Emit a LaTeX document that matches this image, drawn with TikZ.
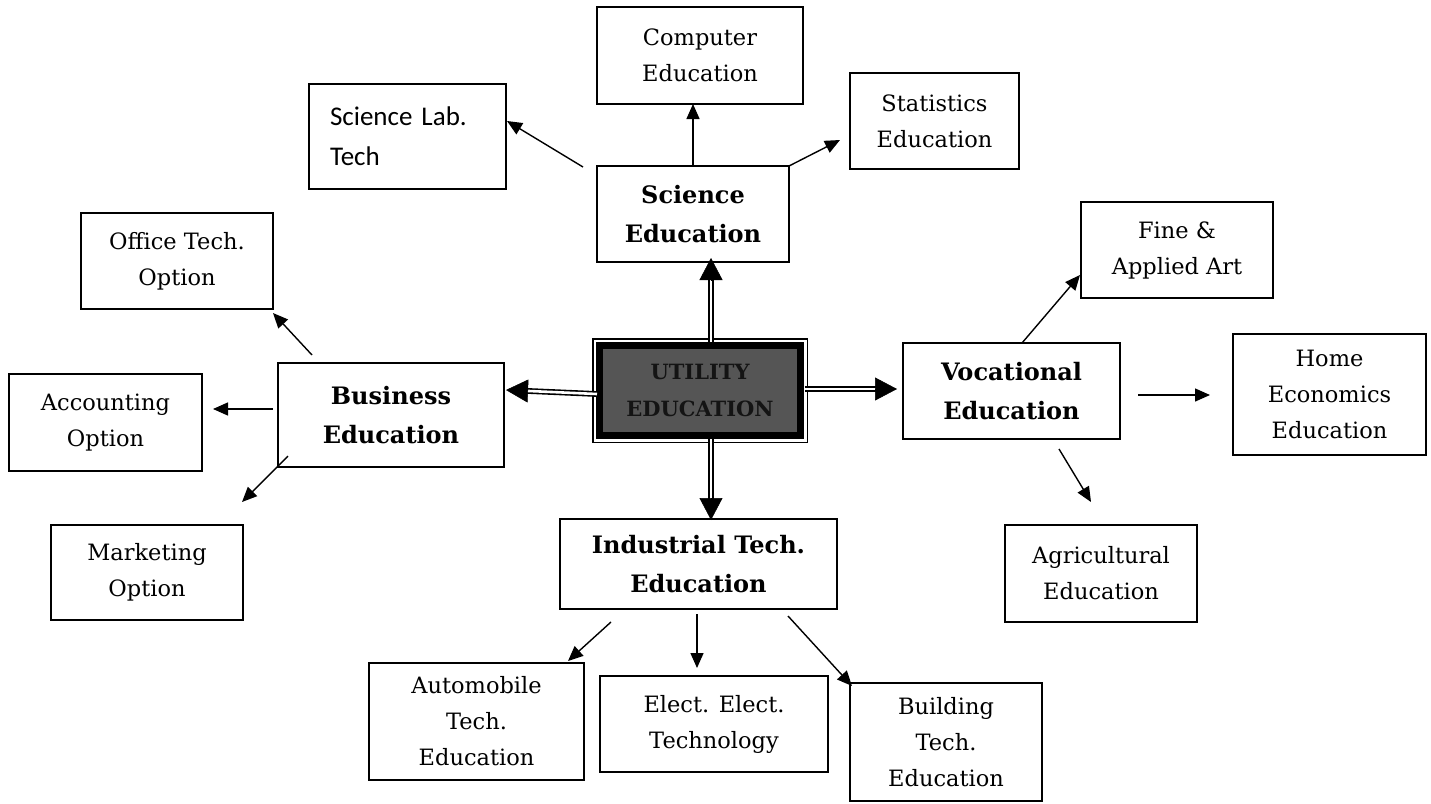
\documentclass[tikz,border=0pt]{standalone}
\usetikzlibrary{arrows.meta,calc}
\usepackage{fontspec}
\setmainfont{DejaVu Serif}
\newfontfamily\calib{Carlito}
\definecolor{utilgray}{RGB}{85,85,85}
\definecolor{utiltext}{RGB}{20,20,20}
\begin{document}
\begin{tikzpicture}[x=1pt,y=-1pt,
  box/.style={draw, line width=1.4pt, inner sep=0pt, outer sep=0pt, align=center, font=\fontsize{22.5}{36}\selectfont},
  bbox/.style={box, font=\bfseries\fontsize{24}{39}\selectfont},
  arr/.style={line width=1.4pt, -{Triangle[length=15pt,width=13pt]}},
  dbl/.style={double, double distance=2.6pt, line width=1.6pt},
  dhead/.style={line width=0.5pt, -{Triangle[length=22pt,width=23pt]}}]
\useasboundingbox (0,0) rectangle (1431,803);

% nodes
\node[box, minimum width=206pt, minimum height=97pt] (comp) at (700,55.5) {Computer\\Education};
\node[box, minimum width=169pt, minimum height=96pt] (stat) at (934.5,121) {Statistics\\Education};
\node[box, minimum width=197pt, minimum height=105pt, text width=155pt, align=left,
      font=\calib\fontsize{27}{40}\selectfont] (lab) at (407.5,136.5) {Science Lab.\\Tech};
\node[bbox, minimum width=192pt, minimum height=96pt] (sci) at (693,214) {Science\\Education};
\node[box, minimum width=192pt, minimum height=96pt] (office) at (177,261) {Office Tech.\\Option};
\node[bbox, minimum width=226pt, minimum height=104pt] (bus) at (391,415) {Business\\Education};
\node[box, minimum width=193pt, minimum height=97pt] (acc) at (105.5,422.5) {Accounting\\Option};
\node[box, minimum width=192pt, minimum height=95pt] (mkt) at (147,572.5) {Marketing\\Option};
\node[draw, line width=7pt, fill=utilgray, inner sep=0pt, outer sep=0pt,
      minimum width=201pt, minimum height=90pt, align=center, text=utiltext,
      font=\bfseries\fontsize{21}{37}\selectfont] (util) at (700,390.5)
      {UTILITY\\EDUCATION};
\draw[line width=1.5pt] ([shift={(-6.75pt,6.75pt)}]util.north west) rectangle ([shift={(6.75pt,-6.75pt)}]util.south east);
\node[bbox, minimum width=217pt, minimum height=96pt] (voc) at (1011.5,391) {Vocational\\Education};
\node[box, minimum width=192pt, minimum height=96pt] (fine) at (1177,250) {Fine \&\\Applied Art};
\node[box, minimum width=193pt, minimum height=121pt] (home) at (1329.5,394.5) {Home\\Economics\\Education};
\node[box, minimum width=192pt, minimum height=97pt] (agri) at (1101,573.5) {Agricultural\\Education};
\node[bbox, minimum width=277pt, minimum height=90pt] (ind) at (698.5,564) {Industrial Tech.\\Education};
\node[box, minimum width=215pt, minimum height=117pt] (auto) at (476.5,721.5) {Automobile\\Tech.\\Education};
\node[box, minimum width=228pt, minimum height=96pt] (elect) at (714,724) {Elect. Elect.\\Technology};
\node[box, minimum width=192pt, minimum height=118pt] (bld) at (946,742) {Building\\Tech.\\Education};

% double arrows from the centre
\coordinate (uN) at ([xshift=11pt,yshift=3.5pt]util.north);
\coordinate (tN) at ([xshift=18pt,yshift=4pt]sci.south);
\draw[dbl] (uN) -- ($(tN)!20pt!(uN)$);
\draw[dhead] ($(tN)!22pt!(uN)$) -- (tN);

\coordinate (uS) at ([xshift=11pt,yshift=-3.5pt]util.south);
\coordinate (tS) at ([xshift=12.5pt,yshift=-1pt]ind.north);
\draw[dbl] (uS) -- ($(tS)!20pt!(uS)$);
\draw[dhead] ($(tS)!22pt!(uS)$) -- (tS);

\coordinate (uW) at ([xshift=-2.5pt,yshift=-3.5pt]util.west);
\coordinate (tW) at ([xshift=2pt,yshift=25pt]bus.east);
\draw[dbl] (uW) -- ($(tW)!20pt!(uW)$);
\draw[dhead] ($(tW)!22pt!(uW)$) -- (tW);

\coordinate (uE) at ([xshift=4pt,yshift=1.5pt]util.east);
\coordinate (tE) at ([xshift=-6pt,yshift=2pt]voc.west);
\draw[dbl] (uE) -- ($(tE)!20pt!(uE)$);
\draw[dhead] ($(tE)!22pt!(uE)$) -- (tE);

% science branches
\draw[arr] (sci.north) -- (sci.north |- comp.south);
\draw[arr] (sci.north east) -- ([xshift=-10pt,yshift=-19pt]stat.west);
\draw[arr] ([xshift=-14pt,yshift=-1pt]sci.north west) -- ([xshift=1pt,yshift=15.5pt]lab.east);

% business branches
\draw[arr] ([xshift=34pt,yshift=8pt]bus.north west) -- ([yshift=-4pt]office.south east);
\draw[arr] ([xshift=-5pt,yshift=6pt]bus.west) -- ([xshift=11pt,yshift=13.5pt]acc.east);
\draw[arr] ([xshift=10pt,yshift=11pt]bus.south west) -- ([xshift=-1pt,yshift=23pt]mkt.north east);

% vocational branches
\draw[arr] ([xshift=10.5pt]voc.north) -- ([xshift=-1pt,yshift=23pt]fine.south west);
\draw[arr] ([xshift=18pt,yshift=-4pt]voc.east) -- ([xshift=-23pt,yshift=-0.5pt]home.west);
\draw[arr] ([xshift=47.5pt,yshift=-10pt]voc.south) -- ([xshift=-10pt,yshift=23pt]agri.north);

% industrial branches
\draw[arr] ([xshift=51pt,yshift=-13pt]ind.south west) -- ([xshift=-16pt,yshift=2pt]auto.north east);
\coordinate (iS) at ([xshift=-1.5pt,yshift=-5pt]ind.south);
\draw[arr, shorten >=8pt] (iS) -- (iS |- elect.north);
\draw[arr] ([xshift=-49pt,yshift=-7pt]ind.south east) -- ([xshift=2pt,yshift=-3pt]bld.north west);
\end{tikzpicture}
\end{document}
